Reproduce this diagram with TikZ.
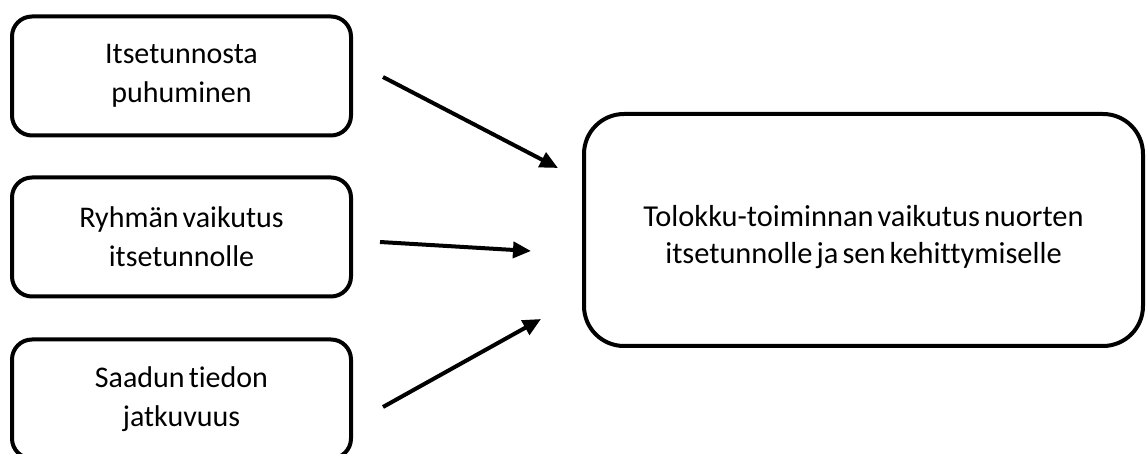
\documentclass[tikz,border=0pt]{standalone}
\usepackage{fontspec}
\setmainfont[Ligatures=NoCommon,WordSpace=0.6]{Carlito}
\usetikzlibrary{arrows.meta}
\begin{document}
\begin{tikzpicture}[x=0.5pt,y=-0.5pt,
  leftbox/.style={draw=black,line width=2pt,rounded corners=10pt,
    minimum width=169.5pt,minimum height=59.5pt,align=center,
    font=\fontsize{15pt}{19.5pt}\selectfont,inner sep=0pt},
  mainbox/.style={draw=black,line width=2pt,rounded corners=20pt,
    minimum width=279.5pt,minimum height=116pt,inner sep=0pt},
  maintext/.style={align=center,font=\fontsize{15.2pt}{18.8pt}\selectfont,inner sep=0pt},
  conn/.style={line width=2pt,-{Triangle[length=9pt,width=8pt]}}]
\useasboundingbox (0,0) rectangle (1147,454);
\clip (0,0) rectangle (1147,454);
\node[leftbox] (b1) at (181.5,76) {Itsetunnosta\\puhuminen};
\node[leftbox] (b2) at (181.5,237) {Ryhmän vaikutus\\itsetunnolle};
\node[leftbox] (b3) at (181.5,399) {Saadun tiedon\\jatkuvuus};
\node[mainbox] (m) at (863.5,230) {};
\node[maintext] (mt) at (863.5,237) {Tolokku-toiminnan vaikutus nuorten\\itsetunnolle ja sen kehittymiselle};
\coordinate (s1) at (383,77);
\coordinate (e1) at (558,168);
\coordinate (s2) at (380,242);
\coordinate (e2) at (531,251);
\coordinate (s3) at (383,407);
\coordinate (e3) at (541,319);
\draw[conn] (s1) -- (e1);
\draw[conn] (s2) -- (e2);
\draw[conn] (s3) -- (e3);
\end{tikzpicture}
\end{document}
